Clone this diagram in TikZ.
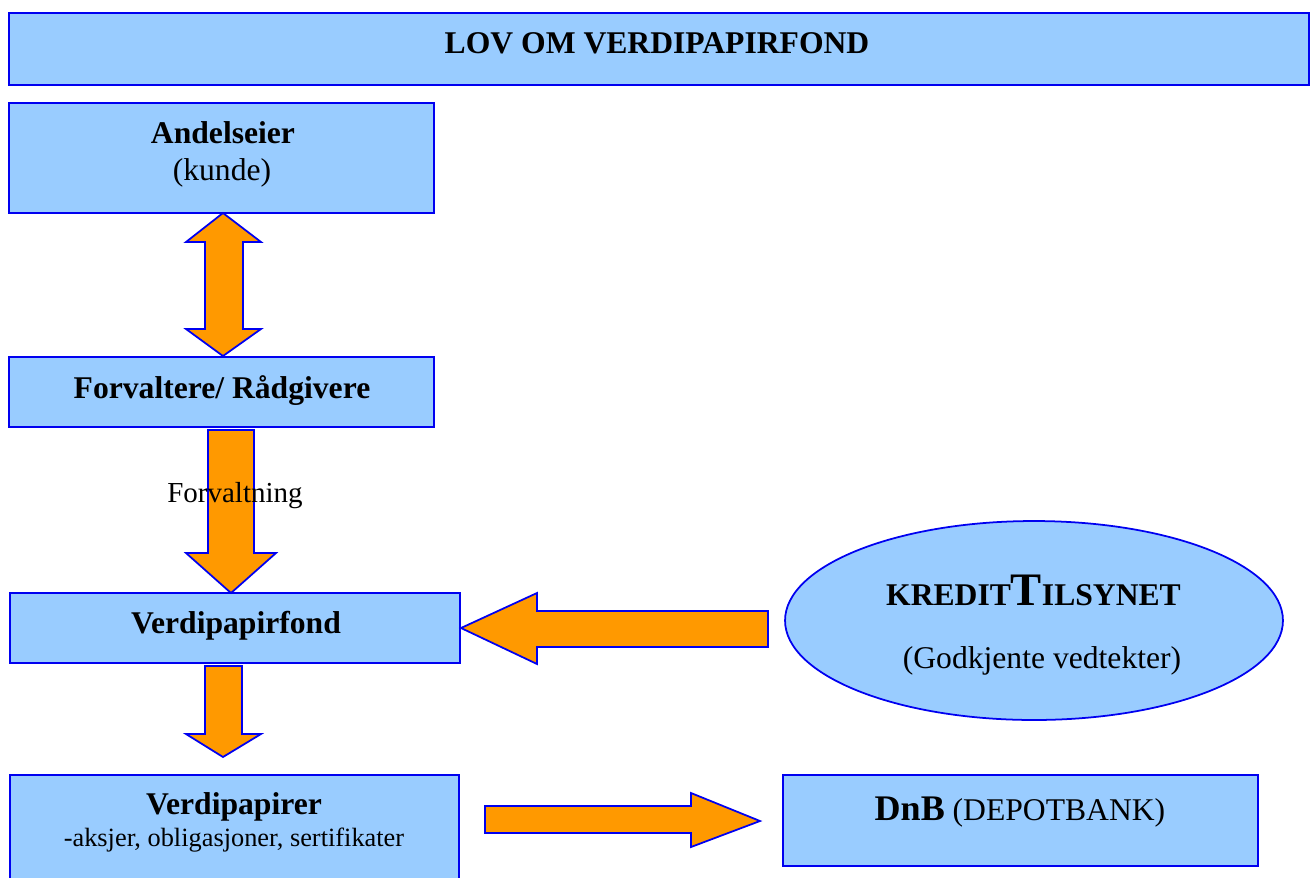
\documentclass[tikz,border=0pt]{standalone}
\usepackage{fontspec}
\setmainfont{Liberation Serif}
\usetikzlibrary{shapes.geometric}
\definecolor{lb}{HTML}{99CCFF}
\definecolor{bord}{HTML}{0000F0}
\definecolor{org}{HTML}{FF9900}
\tikzset{
  boxst/.style={draw=bord, fill=lb, line width=1pt, inner sep=0pt, outer sep=0pt, rectangle},
  arr/.style={draw=bord, fill=org, line width=1pt, line join=miter},
  lbl/.style={anchor=base, inner sep=0pt, font=\fontsize{18}{20}\selectfont},
}
\begin{document}
\begin{tikzpicture}[x=0.02cm,y=-0.02cm]
\useasboundingbox (0,0) rectangle (1312,877);
\clip (0,0) rectangle (1312,877);
% boxes
\node[boxst, minimum width=26cm, minimum height=1.44cm] (title) at (659,49) {};
\node[boxst, minimum width=8.5cm, minimum height=2.2cm] (andel) at (221.5,158) {};
\node[boxst, minimum width=8.5cm, minimum height=1.4cm] (forv) at (221.5,392) {};
\node[boxst, minimum width=9cm, minimum height=1.4cm] (vfond) at (235,628) {};
\node[boxst, minimum width=8.98cm, minimum height=2.4cm] (vpap) at (234.5,835) {};
\node[boxst, minimum width=9.5cm, minimum height=1.82cm] (dnb) at (1020.5,820.5) {};
\node[draw=bord, fill=lb, line width=1pt, ellipse, inner sep=0pt, minimum width=9.96cm, minimum height=3.98cm] (kred) at (1034,620.5) {};
% arrows
\draw[arr] (223,213) -- (261,242) -- (243,242) -- (243,329) -- (261,329) -- (223,356) -- (186,329) -- (205,329) -- (205,242) -- (186,242) -- cycle;
\draw[arr] (208,430) -- (254,430) -- (254,553) -- (276,553) -- (231,593) -- (186,553) -- (208,553) -- cycle;
\draw[arr] (205,666) -- (242,666) -- (242,734) -- (261,734) -- (223,757) -- (186,734) -- (205,734) -- cycle;
\draw[arr] (768,611) -- (768,647) -- (537,647) -- (537,664) -- (461,628) -- (537,593) -- (537,611) -- cycle;
\draw[arr] (485,806) -- (691,806) -- (691,793) -- (760,821) -- (691,847) -- (691,833) -- (485,833) -- cycle;
% labels
\node[lbl, font=\fontsize{18}{20}\selectfont\bfseries] (t1) at (657,53) {LOV OM VERDIPAPIRFOND};
\node[lbl, font=\fontsize{18}{20}\selectfont\bfseries] (t2) at (223,143) {Andelseier};
\node[lbl] (t3) at (222,180) {(kunde)};
\node[lbl, font=\fontsize{18}{20}\selectfont\bfseries] (t4) at (222,398) {Forvaltere/ Rådgivere};
\node[lbl, font=\fontsize{16.5}{18}\selectfont] (t5) at (235,502) {Forvaltning};
\node[lbl, font=\fontsize{18}{20}\selectfont\bfseries] (t6) at (236,633) {Verdipapirfond};
\node[lbl, font=\fontsize{18}{20}\selectfont\bfseries] (t7) at (234,814) {Verdipapirer};
\node[lbl, font=\fontsize{15}{17}\selectfont] (t8) at (234,846) {-aksjer, obligasjoner, sertifikater};
\node[lbl, font=\bfseries] (t9) at (1033.5,605) {{\fontsize{18}{20}\selectfont KREDIT}{\fontsize{26.5}{28}\selectfont T}{\fontsize{18}{20}\selectfont ILSYNET}};
\node[lbl] (t10) at (1042,668) {(Godkjente vedtekter)};
\node[lbl] (t11) at (1020,820) {{\fontsize{20.5}{22}\selectfont\bfseries DnB} (DEPOTBANK)};
\end{tikzpicture}
\end{document}
